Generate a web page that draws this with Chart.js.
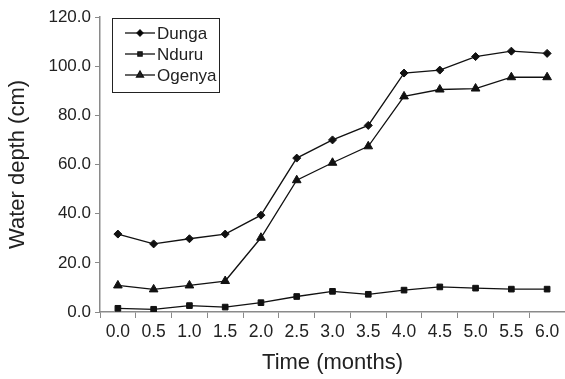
<!DOCTYPE html>
<html>
<head>
<meta charset="utf-8">
<script src="https://cdn.jsdelivr.net/npm/chart.js@4/dist/chart.umd.min.js"></script>
<style>
  html, body { margin: 0; padding: 0; background: #fff; }
  #wrap { width: 565px; height: 379px; }
</style>
</head>
<body>
<div id="wrap"><canvas id="depthChart"></canvas></div>
<script>
const months = ['0.0', '0.5', '1.0', '1.5', '2.0', '2.5', '3.0', '3.5', '4.0', '4.5', '5.0', '5.5', '6.0'];
const dunga = [31.7, 27.7, 29.8, 31.7, 39.4, 62.6, 70.0, 75.9, 97.2, 98.4, 103.9, 106.1, 105.2];
const nduru = [1.5, 1.1, 2.6, 2.0, 3.8, 6.3, 8.4, 7.2, 8.9, 10.2, 9.7, 9.3, 9.3];
const ogenya = [10.8, 9.2, 10.8, 12.6, 30.2, 53.6, 60.7, 67.4, 87.7, 90.5, 90.9, 95.5, 95.5];

const ink = '#111';
const axisGrey = '#8a8a8a';
const fontFamily = '"Liberation Sans", Arial, sans-serif';

// legend box drawn inside the plot area, top left
const boxLegend = {
    id: 'boxLegend',
    afterDraw(chart) {
        const { ctx, chartArea } = chart;
        const x0 = chartArea.left + 12, y0 = chartArea.top + 1;
        const w = 107, h = 74;
        ctx.save();
        ctx.strokeStyle = '#222';
        ctx.lineWidth = 1;
        ctx.strokeRect(x0 + 0.5, y0 + 0.5, w, h);
        ctx.font = '17px ' + fontFamily;
        ctx.textBaseline = 'middle';
        chart.data.datasets.forEach((ds, i) => {
            const y = y0 + 15 + i * 21;
            ctx.strokeStyle = ink;
            ctx.lineWidth = 1.3;
            ctx.beginPath();
            ctx.moveTo(x0 + 13, y);
            ctx.lineTo(x0 + 43, y);
            ctx.stroke();
            Chart.helpers.drawPoint(ctx, {
                pointStyle: ds.pointStyle,
                radius: ds.pointRadius - 1,
                rotation: 0,
                borderWidth: 1
            }, x0 + 28, y);
            ctx.fillStyle = '#222';
            ctx.fillText(ds.label, x0 + 45, y + 1);
        });
        ctx.restore();
    }
};

function series(label, data, style, radius) {
    return {
        label,
        data,
        borderColor: ink,
        backgroundColor: ink,
        borderWidth: 1.3,
        pointStyle: style,
        pointRadius: radius,
        pointHoverRadius: radius,
        pointBackgroundColor: ink,
        pointBorderColor: ink,
        pointBorderWidth: 1,
        tension: 0
    };
}

new Chart(document.getElementById('depthChart'), {
    type: 'line',
    data: {
        labels: months,
        datasets: [
            series('Dunga', dunga, 'rectRot', 4),
            series('Nduru', nduru, 'rect', 4),
            series('Ogenya', ogenya, 'triangle', 5)
        ]
    },
    options: {
        responsive: true,
        maintainAspectRatio: false,
        animation: false,
        layout: { autoPadding: false, padding: { top: 17, right: 0, bottom: 0, left: 0 } },
        plugins: {
            legend: { display: false },
            tooltip: { enabled: false }
        },
        scales: {
            x: {
                offset: true,
                grid: { display: true, offset: true, drawOnChartArea: false, tickLength: 6, color: axisGrey },
                border: { display: true, color: axisGrey, width: 1.5 },
                ticks: { color: '#222', font: { size: 17.5, family: fontFamily }, padding: 4, maxRotation: 0, autoSkip: false },
                title: { display: true, text: 'Time (months)', color: '#222', font: { size: 22, family: fontFamily }, padding: { top: 4, bottom: 3 } },
                afterFit(scale) { scale.height = 67; }
            },
            y: {
                min: 0,
                max: 120,
                grid: { display: true, drawOnChartArea: false, tickLength: 5, color: axisGrey },
                border: { display: true, color: axisGrey, width: 1.5 },
                ticks: {
                    stepSize: 20,
                    color: '#222',
                    font: { size: 17, family: fontFamily },
                    padding: 4,
                    callback: v => Number(v).toFixed(1)
                },
                title: { display: true, text: 'Water depth (cm)', color: '#222', font: { size: 22, family: fontFamily }, padding: { top: 5, bottom: 0 } },
                afterFit(scale) { scale.width = 100; }
            }
        }
    },
    plugins: [boxLegend]
});
</script>
</body>
</html>
